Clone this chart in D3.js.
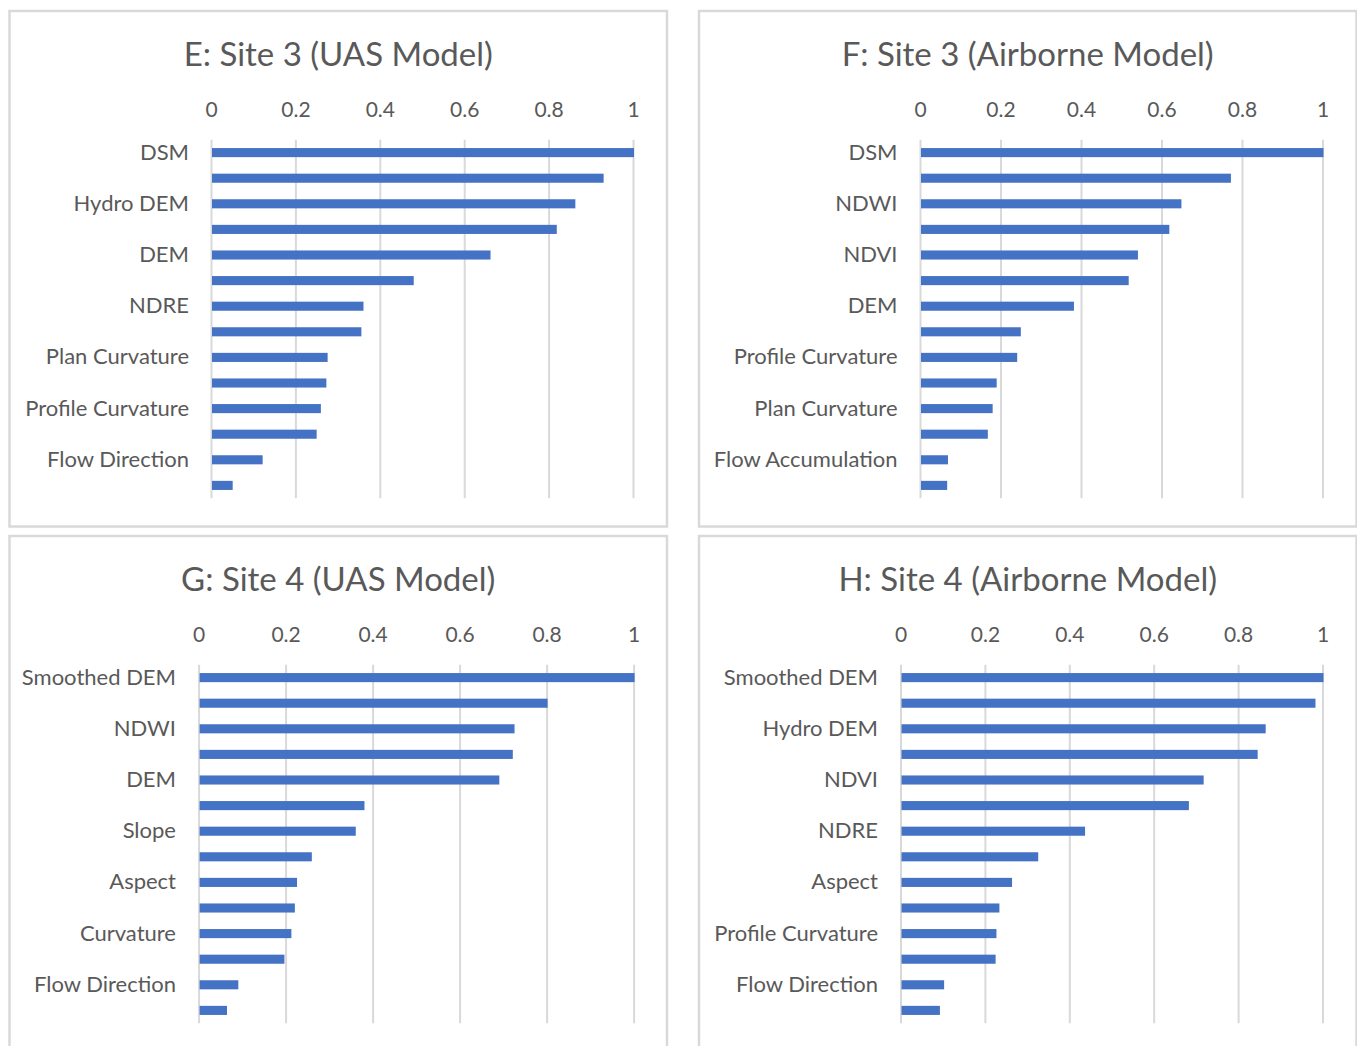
<!DOCTYPE html>
<html><head><meta charset="utf-8">
<script src="https://cdn.jsdelivr.net/npm/d3@7"></script>
<style>
  html,body{margin:0;padding:0;background:#fff;}
  svg{display:block;}
  text{font-family:Lato, "Open Sans", sans-serif; fill:#595959;}
</style>
</head><body>
<script>
// ---- data ----
const tickValues = [0, 0.2, 0.4, 0.6, 0.8, 1];

const titleE = "E: Site 3 (UAS Model)";
const labelsE = ["DSM", "", "Hydro DEM", "", "DEM", "", "NDRE", "", "Plan Curvature", "", "Profile Curvature", "", "Flow Direction", ""];
const valuesE = [1.0, 0.928, 0.861, 0.817, 0.660, 0.478, 0.359, 0.354, 0.274, 0.271, 0.258, 0.248, 0.120, 0.049];

const titleF = "F: Site 3 (Airborne Model)";
const labelsF = ["DSM", "", "NDWI", "", "NDVI", "", "DEM", "", "Profile Curvature", "", "Plan Curvature", "", "Flow Accumulation", ""];
const valuesF = [1.0, 0.770, 0.647, 0.617, 0.539, 0.516, 0.380, 0.248, 0.239, 0.188, 0.178, 0.166, 0.067, 0.065];

const titleG = "G: Site 4 (UAS Model)";
const labelsG = ["Smoothed DEM", "", "NDWI", "", "DEM", "", "Slope", "", "Aspect", "", "Curvature", "", "Flow Direction", ""];
const valuesG = [1.0, 0.800, 0.724, 0.720, 0.689, 0.379, 0.359, 0.258, 0.224, 0.219, 0.211, 0.195, 0.089, 0.063];

const titleH = "H: Site 4 (Airborne Model)";
const labelsH = ["Smoothed DEM", "", "Hydro DEM", "", "NDVI", "", "NDRE", "", "Aspect", "", "Profile Curvature", "", "Flow Direction", ""];
const valuesH = [1.0, 0.981, 0.863, 0.844, 0.716, 0.681, 0.435, 0.324, 0.262, 0.232, 0.225, 0.223, 0.101, 0.091];

// ---- layout ----
const W = 1357, H = 1046;
const panels = [
  {title: titleE, labels: labelsE, values: valuesE, bx: 9.5, by: 11, x0: 211, x1: 633, labelX: 189, tickY: 116.7, y0: 139.8, y1: 498.2, titleY: 65.5},
  {title: titleF, labels: labelsF, values: valuesF, bx: 699, by: 11, x0: 920, x1: 1322.5, labelX: 897.5, tickY: 116.7, y0: 139.8, y1: 498.2, titleY: 65.5},
  {title: titleG, labels: labelsG, values: valuesG, bx: 9.5, by: 536, x0: 198.6, x1: 633.6, labelX: 176, tickY: 641.7, y0: 664.8, y1: 1023.2, titleY: 590.5},
  {title: titleH, labels: labelsH, values: valuesH, bx: 699, by: 536, x0: 900.5, x1: 1322.5, labelX: 878, tickY: 641.7, y0: 664.8, y1: 1023.2, titleY: 590.5}
];
const PW = 657.5, PH = 515.5;

const svg = d3.select("body").append("svg").attr("width", W).attr("height", H);

panels.forEach(p => {
  const g = svg.append("g");
  g.append("rect")
    .attr("x", p.bx).attr("y", p.by).attr("width", PW).attr("height", PH)
    .attr("fill", "#fff").attr("stroke", "#d9d9d9").attr("stroke-width", 2.5);

  g.append("text")
    .attr("x", p.bx + PW / 2).attr("y", p.titleY)
    .attr("text-anchor", "middle")
    .style("font-size", "33px")
    .text(p.title);

  const x = d3.scaleLinear().domain([0, 1]).range([p.x0, p.x1]);
  const n = p.values.length;
  const y = d3.scaleBand().domain(d3.range(n)).range([p.y0, p.y1])
    .paddingInner(0.645).paddingOuter(0.3225);

  // gridlines
  const grid = g.append("g").attr("transform", `translate(0,${p.y1})`)
    .call(d3.axisBottom(x).tickValues(tickValues).tickSize(-(p.y1 - p.y0)).tickFormat(""));
  grid.select(".domain").remove();
  grid.selectAll("line").attr("stroke", "#d9d9d9").attr("stroke-width", 2);

  // top tick labels
  const xa = g.append("g").attr("transform", `translate(0,${p.tickY})`)
    .call(d3.axisTop(x).tickValues(tickValues).tickSize(0).tickPadding(0).tickFormat(d3.format("")));
  xa.select(".domain").remove();
  xa.selectAll("text").attr("fill", "#595959").style("font-size", "21px")
    .style("font-family", "Lato, 'Open Sans', sans-serif");

  // bars
  g.append("g").selectAll("rect").data(p.values).join("rect")
    .attr("x", x(0) + 1)
    .attr("y", (d, i) => y(i))
    .attr("width", d => Math.max(0, x(d) - x(0)))
    .attr("height", y.bandwidth())
    .attr("fill", "#4472C4");

  // category labels
  const ya = g.append("g").attr("transform", `translate(${p.labelX},0)`)
    .call(d3.axisLeft(y).tickSize(0).tickPadding(0).tickFormat(i => p.labels[i]));
  ya.select(".domain").remove();
  ya.selectAll("text").attr("fill", "#595959").style("font-size", "22px")
    .style("font-family", "Lato, 'Open Sans', sans-serif");
});
</script>
</body></html>
